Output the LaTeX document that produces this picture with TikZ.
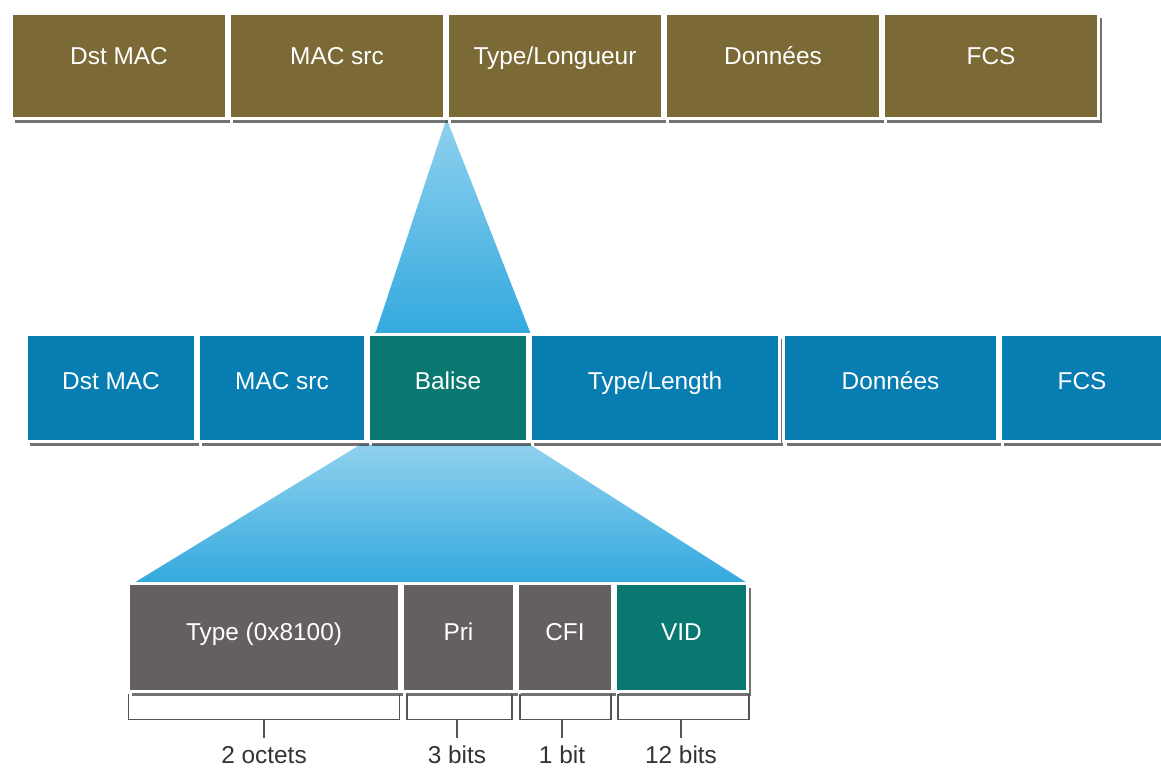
\documentclass[tikz,border=0pt]{standalone}
\usepackage{fontspec}
\setmainfont{Liberation Sans}
\usetikzlibrary{shadows,backgrounds}

\definecolor{framegold}{HTML}{7B6A36}
\definecolor{frameblue}{HTML}{087DB1}
\definecolor{tagteal}{HTML}{087870}
\definecolor{taggrey}{HTML}{645F61}
\definecolor{fanlight}{HTML}{90D1EE}
\definecolor{fandark}{HTML}{33A9DE}
\definecolor{bracketgrey}{HTML}{555555}

\tikzset{
  field/.style={draw=white, line width=1.5pt, text=white, inner sep=0pt, outer sep=0pt,
    font=\fontsize{12.2}{14}\selectfont, text height=8.5pt,
    drop shadow={shadow xshift=1.5pt, shadow yshift=-2.2pt, fill=black!85, opacity=.65}},
  toprow/.style={field, fill=framegold, minimum width=107.5pt, minimum height=52.5pt, text depth=9.5pt},
  midrow/.style={field, fill=frameblue, minimum height=53.5pt, text depth=7pt},
  lowrow/.style={field, fill=taggrey, minimum height=54pt, text depth=5.5pt},
  bracket/.style={draw=bracketgrey, line width=0.75pt},
  sizelabel/.style={inner sep=0pt, text=black!80, font=\fontsize{12.2}{14}\selectfont,
    text height=8.5pt, text depth=2.5pt},
  fan/.style={top color=fanlight, bottom color=fandark, draw=none}
}

\begin{document}
\begin{tikzpicture}[x=0.5pt, y=-0.5pt]
  \useasboundingbox (0,0) rectangle (1161,769);

  % The untagged frame
  \node[toprow] (dst) at (119,66) {Dst MAC};
  \node[toprow] (src) at (337,66) {MAC src};
  \node[toprow] (typelen) at (555,66) {Type/Longueur};
  \node[toprow] (data) at (773,66) {Données};
  \node[toprow] (fcs) at (991,66) {FCS};

  % The tagged frame
  \node[midrow, minimum width=84.5pt] (tdst) at (111,388) {Dst MAC};
  \node[midrow, minimum width=83.5pt] (tsrc) at (282,388) {MAC src};
  \node[midrow, minimum width=79.5pt, fill=tagteal] (tag) at (448,388) {Balise};
  \node[midrow, minimum width=124.5pt] (ttypelen) at (655,388) {Type/Length};
  \node[midrow, minimum width=107pt] (tdata) at (890.5,388) {Données};
  \node[midrow, minimum width=81.5pt] (tfcs) at (1082,388) {FCS};

  % The tag fields
  \node[lowrow, minimum width=135.5pt] (tpid) at (264,637.5) {Type (0x8100)};
  \node[lowrow, minimum width=56pt] (pri) at (458.5,637.5) {Pri};
  \node[lowrow, minimum width=47.5pt] (cfi) at (565,637.5) {CFI};
  \node[lowrow, minimum width=66pt, fill=tagteal] (vid) at (681.5,637.5) {VID};

  % Field sizes
  \draw[bracket] ([yshift=-1pt]tpid.south west) -- ++(0,26) -| ([yshift=-1pt]tpid.south east);
  \draw[bracket] ([xshift=2.25pt,yshift=-1pt]pri.south west) -- ++(0,26) -| ([xshift=-1.25pt,yshift=-1pt]pri.south east);
  \draw[bracket] ([xshift=1.25pt,yshift=-1pt]cfi.south west) -- ++(0,26) -| ([xshift=-0.75pt,yshift=-1pt]cfi.south east);
  \draw[bracket] ([xshift=1.25pt,yshift=-1pt]vid.south west) -- ++(0,26) -| ([xshift=0.75pt,yshift=-1pt]vid.south east);

  \node[sizelabel] (s1) at (264,757) {2 octets};
  \node[sizelabel] (s2) at (457,757) {3 bits};
  \node[sizelabel] (s3) at (562,757) {1 bit};
  \node[sizelabel] (s4) at (681,757) {12 bits};
  \draw[bracket] ([yshift=4pt]s1.north) -- ++(0,-18);
  \draw[bracket] ([yshift=4pt]s2.north) -- ++(0,-18);
  \draw[bracket] ([yshift=4pt]s3.north) -- ++(0,-18);
  \draw[bracket] ([yshift=4pt]s4.north) -- ++(0,-18);

  % The fans, behind the boxes
  \begin{scope}[on background layer]
    \path[fan] ([xshift=-0.5pt]typelen.south west) -- ([xshift=3.25pt]tag.north west)
      -- ([xshift=1.75pt]tag.north east) -- cycle;
    \path[fan] ([xshift=-4pt,yshift=-1.5pt]tag.south west) -- ([xshift=1.25pt,yshift=-1.5pt]tag.south east)
      -- ([xshift=0.25pt]vid.north east) -- ([xshift=2.25pt]tpid.north west) -- cycle;
  \end{scope}
\end{tikzpicture}
\end{document}
